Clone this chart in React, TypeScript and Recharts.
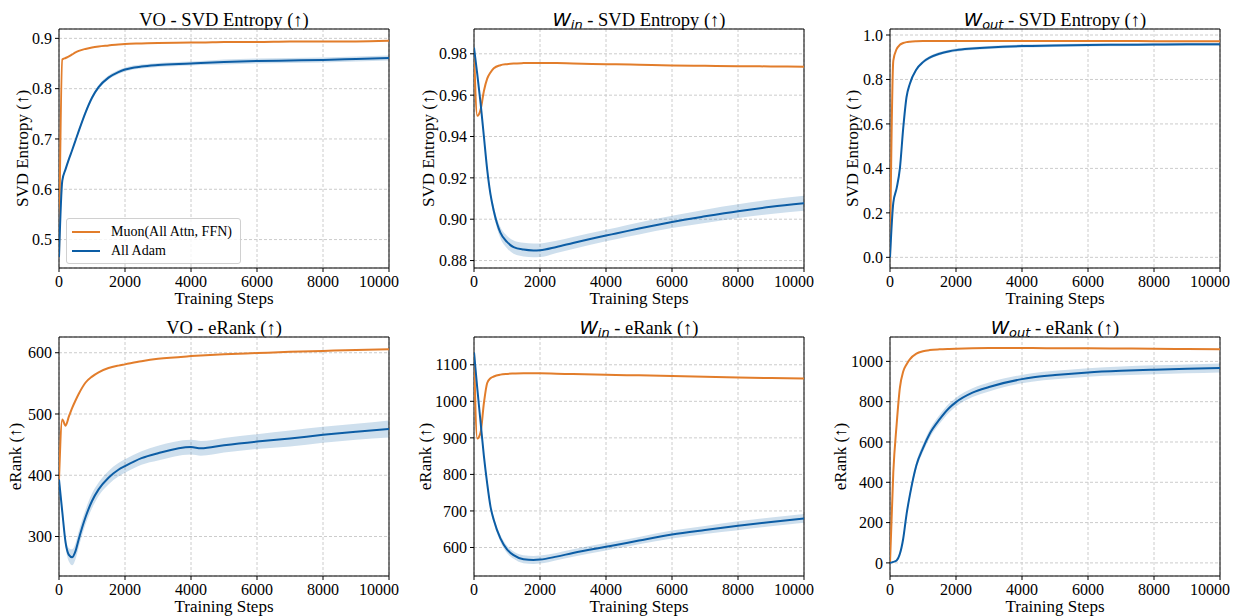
import type { ReactNode } from "react";
import {
  Area,
  CartesianGrid,
  ComposedChart,
  Label,
  Legend,
  Line,
  ReferenceArea,
  XAxis,
  YAxis,
} from "recharts";

const steps = [0, 100, 200, 300, 400, 500, 600, 800, 1000, 1200, 1500, 1800, 2000, 2500, 3000, 4000, 4300, 5000, 6000, 7000, 8000, 9000, 10000];
const xTicks = [0, 2000, 4000, 6000, 8000, 10000];
const seriesNames = ["Muon(All Attn, FFN)", "All Adam"];

// VO - SVD Entropy
const voSvdMuon = [0.465, 0.858, 0.861, 0.864, 0.868, 0.872, 0.875, 0.879, 0.882, 0.884, 0.886, 0.888, 0.889, 0.89, 0.891, 0.892, 0.892, 0.893, 0.893, 0.894, 0.894, 0.894, 0.895];
const voSvdAdam = [0.465, 0.617, 0.64, 0.66, 0.678, 0.697, 0.716, 0.752, 0.782, 0.803, 0.822, 0.833, 0.838, 0.844, 0.847, 0.85, 0.851, 0.853, 0.855, 0.856, 0.857, 0.859, 0.861];
const voSvdSpread = [0, 0.002, 0.003, 0.003, 0.003, 0.004, 0.004, 0.004, 0.004, 0.004, 0.004, 0.004, 0.004, 0.004, 0.004, 0.004, 0.004, 0.005, 0.005, 0.005, 0.005, 0.005, 0.005];

// W_in - SVD Entropy
const winSvdMuon = [0.982, 0.95, 0.953, 0.962, 0.968, 0.971, 0.973, 0.9745, 0.975, 0.9753, 0.9755, 0.9756, 0.9756, 0.9755, 0.9753, 0.975, 0.9749, 0.9747, 0.9744, 0.9742, 0.974, 0.9739, 0.9738];
const winSvdAdam = [0.983, 0.97, 0.956, 0.94, 0.924, 0.912, 0.904, 0.8935, 0.889, 0.8865, 0.8853, 0.8849, 0.885, 0.8866, 0.8885, 0.8921, 0.8931, 0.8955, 0.8987, 0.9014, 0.9039, 0.906, 0.9077];
const winSvdSpread = [0, 0.0005, 0.001, 0.0015, 0.002, 0.002, 0.0022, 0.0027, 0.003, 0.0032, 0.0033, 0.0033, 0.0033, 0.003, 0.0029, 0.0028, 0.0028, 0.0029, 0.003, 0.0032, 0.0033, 0.0035, 0.0036];

// W_out - SVD Entropy
const woutSvdMuon = [0, 0.885, 0.936, 0.956, 0.964, 0.968, 0.97, 0.972, 0.973, 0.973, 0.973, 0.973, 0.973, 0.973, 0.973, 0.973, 0.973, 0.973, 0.973, 0.973, 0.972, 0.972, 0.972];
const woutSvdAdam = [0, 0.245, 0.31, 0.4, 0.58, 0.72, 0.78, 0.845, 0.878, 0.898, 0.916, 0.927, 0.932, 0.939, 0.944, 0.95, 0.951, 0.953, 0.955, 0.956, 0.957, 0.958, 0.958];
const woutSvdSpread = [0, 0.003, 0.004, 0.005, 0.006, 0.007, 0.007, 0.007, 0.007, 0.007, 0.007, 0.007, 0.007, 0.007, 0.007, 0.007, 0.007, 0.007, 0.007, 0.007, 0.007, 0.007, 0.007];

// VO - eRank
const voRankMuon = [393, 491, 481, 496, 510, 522, 533, 551, 561, 568, 575, 579, 581, 586, 590, 594.5, 595.5, 597.5, 599.5, 601.5, 603, 604.5, 605.5];
const voRankAdam = [393, 340, 290, 270, 266, 276, 296, 331, 358, 377, 396, 409, 415, 428, 436, 446, 444, 449, 455, 460, 466, 471, 475.5];
const voRankSpread = [0, 4, 8, 11, 13, 13, 13, 12, 12, 11, 11, 11, 11, 11, 12, 12, 12, 12, 12, 13, 13, 13, 14];

// W_in - eRank
const winRankMuon = [1134, 898, 915, 995, 1050, 1063, 1068, 1073, 1075, 1076, 1077, 1077, 1076.5, 1075.5, 1074.5, 1072.5, 1072, 1071, 1069, 1067, 1065, 1063.5, 1062.5];
const winRankAdam = [1134, 1035, 942, 850, 775, 712, 675, 625, 595, 579, 568, 566, 567, 575, 585, 602, 607, 619, 635.5, 648, 659.5, 670, 679.5];
const winRankSpread = [0, 2, 4, 5, 6, 7, 8, 9, 10, 10, 11, 11, 11, 10, 10, 10, 10, 10, 11, 11, 12, 12, 12];

// W_out - eRank
const woutRankMuon = [0, 450, 685, 870, 950, 985, 1010, 1038, 1050, 1056, 1060, 1062, 1063, 1065, 1066, 1066, 1066, 1065.5, 1065, 1064, 1063, 1061.5, 1060];
const woutRankAdam = [0, 5, 12, 45, 120, 240, 335, 485, 570, 640, 712, 770, 798, 845, 873, 912, 920, 932, 945, 953, 958.5, 963, 967];
const woutRankSpread = [0, 1, 2, 5, 8, 12, 15, 18, 20, 21, 22, 22, 22, 22, 22, 21, 21, 21, 21, 22, 22, 22, 22];

const ORANGE = "#E27D2B";
const BLUE = "#0C5DA5";
const serif = "'Liberation Serif', 'Times New Roman', serif";

const Wsym = ({ sub }: { sub: string }) => (
  <span style={{ fontFamily: "'DejaVu Sans', sans-serif", fontStyle: "italic" }}>
    W<sub style={{ fontSize: "0.7em", verticalAlign: "-0.25em" }}>{sub}</sub>
  </span>
);

type PanelProps = {
  title: ReactNode;
  yLabel: string;
  muon: number[];
  adam: number[];
  spread: number[];
  domain: [number, number];
  yTicks: number[];
  digits: number;
  left: number;
  top: number;
  labelGap: number;
  legend?: boolean;
};

const LegendBox = () => (
  <div
    style={{
      border: "1px solid #d0d0d0",
      borderRadius: 3,
      background: "rgba(255,255,255,0.8)",
      padding: "3px 8px 3px 5px",
      fontFamily: serif,
      fontSize: 14,
      whiteSpace: "nowrap",
      width: "max-content",
    }}
  >
    {seriesNames.map((name, i) => (
      <div key={name} style={{ display: "flex", alignItems: "center", height: 19 }}>
        <span
          style={{
            display: "inline-block",
            width: 28,
            height: 2,
            background: i === 0 ? ORANGE : BLUE,
            marginRight: 11,
          }}
        />
        <span>{name}</span>
      </div>
    ))}
  </div>
);

const Panel = (p: PanelProps) => {
  const data = steps.map((s, i) => ({
    step: s,
    muon: p.muon[i],
    adam: p.adam[i],
    band: [p.adam[i] - p.spread[i], p.adam[i] + p.spread[i]],
  }));
  const tickStyle = { fill: "#000", fontSize: 16, fontFamily: serif };
  return (
    <>
      <div
        style={{
          position: "absolute",
          left: p.left,
          width: 330,
          top: p.top - 21,
          height: 24,
          lineHeight: "24px",
          textAlign: "center",
          fontFamily: serif,
          fontSize: 18.5,
          whiteSpace: "nowrap",
        }}
      >
        {p.title}
      </div>
      <div style={{ position: "absolute", left: p.left - 60, top: p.top - 5 }}>
        <ComposedChart width={400} height={289} data={data} margin={{ top: 5, right: 10, bottom: 0, left: 0 }}>
          <CartesianGrid stroke="#cccccc" strokeDasharray="3 2" />
          <XAxis
            dataKey="step"
            type="number"
            domain={[0, 10000]}
            ticks={xTicks}
            allowDataOverflow
            height={45}
            axisLine={false}
            tickLine={{ stroke: "#000" }}
            tickSize={4}
            tickMargin={4}
            tick={tickStyle}
          >
            <Label
              content={({ viewBox }: any) => (
                <text
                  x={viewBox.x + viewBox.width / 2}
                  y={viewBox.y + 30}
                  textAnchor="middle"
                  dominantBaseline="central"
                  fontFamily={serif}
                  fontSize={17}
                  fill="#000"
                >
                  Training Steps
                </text>
              )}
            />
          </XAxis>
          <YAxis
            type="number"
            domain={p.domain}
            ticks={p.yTicks}
            allowDataOverflow
            width={60}
            axisLine={false}
            tickLine={{ stroke: "#000" }}
            tickSize={4}
            tickMargin={3}
            tick={tickStyle}
            tickFormatter={(v: number) => v.toFixed(p.digits)}
          >
            <Label
              content={({ viewBox }: any) => {
                const cx = viewBox.x + viewBox.width - p.labelGap;
                const cy = viewBox.y + viewBox.height / 2;
                return (
                  <text
                    x={cx}
                    y={cy}
                    transform={`rotate(-90 ${cx} ${cy})`}
                    textAnchor="middle"
                    dominantBaseline="central"
                    fontFamily={serif}
                    fontSize={17}
                    fill="#000"
                  >
                    {p.yLabel}
                  </text>
                );
              }}
            />
          </YAxis>
          <Area
            dataKey="band"
            type="monotone"
            stroke="none"
            fill={BLUE}
            fillOpacity={0.2}
            legendType="none"
            isAnimationActive={false}
          />
          <Line
            dataKey="muon"
            name={seriesNames[0]}
            type="monotone"
            stroke={ORANGE}
            strokeWidth={2}
            dot={false}
            isAnimationActive={false}
          />
          <Line
            dataKey="adam"
            name={seriesNames[1]}
            type="monotone"
            stroke={BLUE}
            strokeWidth={2}
            dot={false}
            isAnimationActive={false}
          />
          <ReferenceArea
            x1={0}
            x2={10000}
            y1={p.domain[0]}
            y2={p.domain[1]}
            fill="none"
            stroke="#000"
            strokeWidth={1}
          />
          {p.legend && (
            <Legend
              layout="vertical"
              align="center"
              verticalAlign="middle"
              wrapperStyle={{ left: 67, top: 194, width: "auto" }}
              content={() => <LegendBox />}
            />
          )}
        </ComposedChart>
      </div>
    </>
  );
};

const App = () => {
  return (
    <div
      style={{
        position: "absolute",
        left: 0,
        top: 0,
        width: 1242,
        height: 616,
        background: "#fff",
        fontFamily: serif,
      }}
    >
      <Panel
        title="VO - SVD Entropy (↑)"
        yLabel="SVD Entropy (↑)"
        muon={voSvdMuon}
        adam={voSvdAdam}
        spread={voSvdSpread}
        domain={[0.4435, 0.9186]}
        yTicks={[0.5, 0.6, 0.7, 0.8, 0.9]}
        digits={1}
        left={59}
        top={29}
        labelGap={37}
        legend
      />
      <Panel
        title={<><Wsym sub="in" /> - SVD Entropy (↑)</>}
        yLabel="SVD Entropy (↑)"
        muon={winSvdMuon}
        adam={winSvdAdam}
        spread={winSvdSpread}
        domain={[0.8764, 0.992]}
        yTicks={[0.88, 0.9, 0.92, 0.94, 0.96, 0.98]}
        digits={2}
        left={474}
        top={29}
        labelGap={46}
      />
      <Panel
        title={<><Wsym sub="out" /> - SVD Entropy (↑)</>}
        yLabel="SVD Entropy (↑)"
        muon={woutSvdMuon}
        adam={woutSvdAdam}
        spread={woutSvdSpread}
        domain={[-0.048, 1.027]}
        yTicks={[0, 0.2, 0.4, 0.6, 0.8, 1.0]}
        digits={1}
        left={890}
        top={29}
        labelGap={38}
      />
      <Panel
        title="VO - eRank (↑)"
        yLabel="eRank (↑)"
        muon={voRankMuon}
        adam={voRankAdam}
        spread={voRankSpread}
        domain={[235.5, 625.7]}
        yTicks={[300, 400, 500, 600]}
        digits={0}
        left={59}
        top={337}
        labelGap={44}
      />
      <Panel
        title={<><Wsym sub="in" /> - eRank (↑)</>}
        yLabel="eRank (↑)"
        muon={winRankMuon}
        adam={winRankAdam}
        spread={winRankSpread}
        domain={[522, 1176]}
        yTicks={[600, 700, 800, 900, 1000, 1100]}
        digits={0}
        left={474}
        top={337}
        labelGap={49}
      />
      <Panel
        title={<><Wsym sub="out" /> - eRank (↑)</>}
        yLabel="eRank (↑)"
        muon={woutRankMuon}
        adam={woutRankAdam}
        spread={woutRankSpread}
        domain={[-65, 1121]}
        yTicks={[0, 200, 400, 600, 800, 1000]}
        digits={0}
        left={890}
        top={337}
        labelGap={50}
      />
    </div>
  );
};

export default App;
